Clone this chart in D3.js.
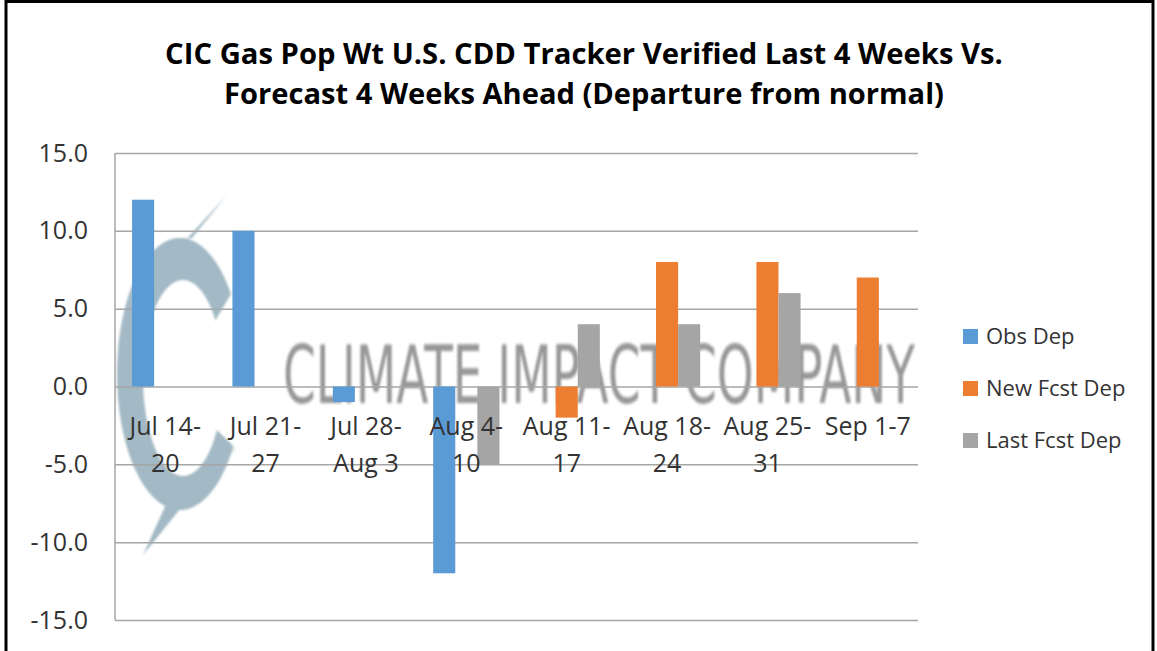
<!DOCTYPE html>
<html>
<head>
<meta charset="utf-8">
<script src="https://d3js.org/d3.v7.min.js"></script>
<style>
	body{margin:0;background:#fff;}
	svg{display:block;}
</style>
</head>
<body>
<svg id="myGraph"></svg>
<script>
var categories=["Jul 14-20","Jul 21-27","Jul 28-Aug 3","Aug 4-10","Aug 11-17","Aug 18-24","Aug 25-31","Sep 1-7"];
var tickLabels=[["Jul 14-","20"],["Jul 21-","27"],["Jul 28-","Aug 3"],["Aug 4-","10"],["Aug 11-","17"],["Aug 18-","24"],["Aug 25-","31"],["Sep 1-7"]];
var seriesNames=["Obs Dep","New Fcst Dep","Last Fcst Dep"];
var obsDep=[12,10,-1,-12,null,null,null,null];
var newFcstDep=[null,null,null,null,-2,8,8,7];
var lastFcstDep=[null,null,null,-5,4,4,6,null];
var yTicks=[-15,-10,-5,0,5,10,15];
var titleLines=["CIC Gas Pop Wt U.S. CDD Tracker Verified Last 4 Weeks Vs.","Forecast 4 Weeks Ahead (Departure from normal)"];
var colors=["#5b9bd5","#ed7d31","#a5a5a5"];

window.addEventListener("load",function(){
	var W=1157,H=651;
	var svg=d3.select("#myGraph").attr("width",W).attr("height",H);
	var values=[obsDep,newFcstDep,lastFcstDep];

	var yScale=d3.scaleLinear().domain([-15,15]).range([620,153]);
	var x0=d3.scaleBand().domain(categories).range([115,918]).paddingInner(0.34).paddingOuter(0.17);
	var x1=d3.scaleBand().domain(seriesNames).range([0,x0.bandwidth()]);

	var defs=svg.append("defs");
	defs.append("filter").attr("id","soft").append("feGaussianBlur").attr("stdDeviation",1.4);
	defs.append("filter").attr("id","soft2").append("feGaussianBlur").attr("stdDeviation",0.8);

	// squeeze a text horizontally to a given width
	function fitWidth(sel,x,y,w,anchor){
		var n=sel.node().getComputedTextLength();
		sel.attr("x",0).attr("y",0).attr("text-anchor",anchor)
			.attr("transform","translate("+x+","+y+") scale("+(w/n)+",1)");
	}

	// watermark logo: ring open on the right + two arrow tails
	function ell(cx,cy,rx,ry,t){return [cx+rx*Math.cos(t),cy-ry*Math.sin(t)];}
	var rad=Math.PI/180;
	var outer=d3.range(36,329,2).map(function(a){return ell(180,374,63,136,a*rad);});
	var inner=d3.range(328,35,-2).map(function(a){return ell(183,378,40,98,a*rad);});
	var logo=svg.append("g").attr("fill","#a3b9c5").attr("filter","url(#soft2)");
	logo.append("path").attr("d",d3.line()(outer.concat(inner))+"Z");
	logo.append("path").attr("d",d3.line()([[227,195],ell(180,374,63,136,150*rad),ell(180,374,63,136,100*rad),[192,238]])+"Z");
	logo.append("path").attr("d",d3.line()([[143,555],[168,500],[238,446],[205,478]])+"Z");

	var mark=svg.append("text")
		.style("font-family","'DejaVu Sans'").style("font-stretch","condensed")
		.style("font-size","80px").style("fill","#858585").style("opacity",0.85)
		.attr("filter","url(#soft)")
		.text("CLIMATE IMPACT COMPANY");
	fitWidth(mark,283,403,632,"start");

	// gridlines + y labels
	var fmt=d3.formatLocale({decimal:".",thousands:",",grouping:[3],currency:["$",""],minus:"-"}).format(".1f");
	var yAxis=svg.append("g")
		.attr("transform","translate(115,0)")
		.call(d3.axisLeft(yScale).tickValues(yTicks).tickSize(-803).tickPadding(27).tickFormat(fmt));
	yAxis.select(".domain").remove();
	yAxis.selectAll("line").attr("stroke","#a6a6a6").attr("stroke-width",1.5);
	yAxis.selectAll("text").style("font-family","'Open Sans'").style("font-size","25px").attr("fill","#333");

	svg.append("line")
		.attr("x1",115).attr("x2",115).attr("y1",yScale(15)).attr("y2",yScale(-15))
		.attr("stroke","#a6a6a6").attr("stroke-width",1.5);

	// bars
	var groups=svg.append("g").selectAll("g")
		.data(categories)
		.enter()
		.append("g")
		.attr("transform",function(d){return "translate("+x0(d)+",0)";});
	groups.selectAll("rect")
		.data(function(d,i){
			return seriesNames.map(function(s,j){return {s:s,j:j,v:values[j][i]};})
				.filter(function(e){return e.v!=null;});
		})
		.enter()
		.append("rect")
		.attr("x",function(d){return x1(d.s);})
		.attr("y",function(d){return yScale(Math.max(0,d.v));})
		.attr("width",x1.bandwidth())
		.attr("height",function(d){return Math.abs(yScale(d.v)-yScale(0));})
		.attr("fill",function(d){return colors[d.j];});

	// category labels at zero line
	var xAxis=svg.append("g")
		.attr("transform","translate(0,"+yScale(0)+")")
		.call(d3.axisBottom(x0).tickSize(0));
	xAxis.select(".domain").remove();
	xAxis.selectAll("text")
		.attr("y",null).attr("dy",null)
		.style("font-family","'Open Sans'").style("font-size","25px").attr("fill","#333")
		.text(null)
		.each(function(d,i){
			var t=d3.select(this);
			tickLabels[i].forEach(function(line,k){
				t.append("tspan").attr("x",0).attr("y",48+k*37.5).text(line);
			});
		});

	// title
	var titleWidths=[838,720];
	svg.append("g").selectAll("text")
		.data(titleLines)
		.enter()
		.append("text")
		.style("font-family","'Open Sans'").style("font-weight","bold").style("font-size","29px")
		.attr("fill","#000")
		.text(function(d){return d;})
		.each(function(d,i){fitWidth(d3.select(this),584,64+i*40,titleWidths[i],"middle");});

	// legend
	var legend=svg.append("g").selectAll("g")
		.data(seriesNames)
		.enter()
		.append("g")
		.attr("transform",function(d,i){return "translate(963,"+(329+i*52)+")";});
	legend.append("rect")
		.attr("width",15).attr("height",15)
		.attr("fill",function(d,i){return colors[i];});
	legend.append("text")
		.attr("x",23).attr("y",15)
		.style("font-family","'Open Sans'").style("font-size","22px").attr("fill","#333")
		.text(function(d){return d;});

	// outer frame
	svg.append("rect")
		.attr("x",6).attr("y",1.5).attr("width",1147).attr("height",700)
		.attr("fill","none").attr("stroke","#000").attr("stroke-width",3);
});
</script>
</body>
</html>
